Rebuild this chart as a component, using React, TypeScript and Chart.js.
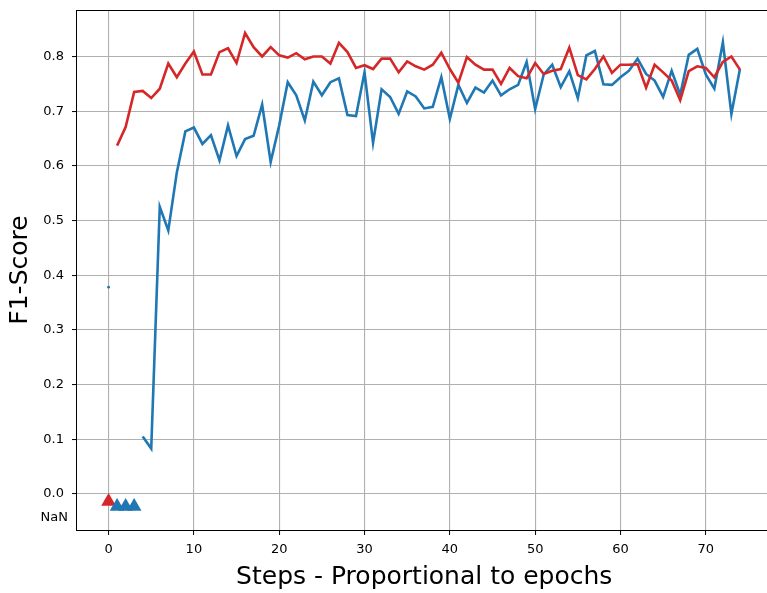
import React, { useEffect, useRef } from 'react';
import { Chart, registerables } from 'chart.js';

Chart.register(...registerables);

const STEPS = [
  0, 1, 2, 3, 4, 5, 6, 7, 8, 9, 10, 11, 12, 13, 14, 15, 16, 17, 18, 19,
  20, 21, 22, 23, 24, 25, 26, 27, 28, 29, 30, 31, 32, 33, 34, 35, 36, 37, 38, 39,
  40, 41, 42, 43, 44, 45, 46, 47, 48, 49, 50, 51, 52, 53, 54, 55, 56, 57, 58, 59,
  60, 61, 62, 63, 64, 65, 66, 67, 68, 69, 70, 71, 72, 73, 74,
];

const BLUE_F1 = [
  0.378, null, null, null, 0.105, 0.083, 0.525, 0.482, 0.588, 0.663,
  0.670, 0.640, 0.656, 0.610, 0.674, 0.618, 0.649, 0.655, 0.712, 0.607,
  0.674, 0.753, 0.729, 0.683, 0.754, 0.729, 0.753, 0.760, 0.693, 0.691,
  0.771, 0.642, 0.740, 0.726, 0.695, 0.736, 0.727, 0.705, 0.708, 0.762,
  0.686, 0.748, 0.715, 0.743, 0.734, 0.756, 0.729, 0.740, 0.748, 0.790,
  0.704, 0.767, 0.785, 0.744, 0.773, 0.724, 0.802, 0.810, 0.749, 0.748,
  0.762, 0.774, 0.796, 0.768, 0.756, 0.726, 0.774, 0.730, 0.803, 0.814,
  0.767, 0.741, 0.826, 0.695, 0.777,
];

const RED_F1 = [
  null, 0.637, 0.671, 0.735, 0.737, 0.724, 0.741, 0.787, 0.762, 0.787,
  0.809, 0.767, 0.767, 0.808, 0.815, 0.788, 0.843, 0.817, 0.800, 0.817,
  0.802, 0.798, 0.806, 0.795, 0.800, 0.800, 0.787, 0.825, 0.808, 0.779,
  0.784, 0.777, 0.796, 0.796, 0.771, 0.791, 0.782, 0.776, 0.785, 0.807,
  0.777, 0.752, 0.799, 0.785, 0.776, 0.776, 0.750, 0.779, 0.764, 0.760,
  0.788, 0.768, 0.774, 0.777, 0.816, 0.766, 0.758, 0.777, 0.800, 0.770,
  0.785, 0.785, 0.786, 0.743, 0.785, 0.771, 0.756, 0.720, 0.773, 0.782,
  0.779, 0.762, 0.790, 0.800, 0.776,
];

const BLUE_NAN_STEPS = [1, 2, 3];
const RED_NAN_STEPS = [0];
const BLUE_NAN_Y = -0.023;
const RED_NAN_Y = -0.014;

const X_TICKS = [0, 10, 20, 30, 40, 50, 60, 70];
const Y_TICKS = [0.0, 0.1, 0.2, 0.3, 0.4, 0.5, 0.6, 0.7, 0.8];
const NAN_LABEL = 'NaN';
const NAN_LABEL_VALUE = -0.043;

const X_MIN = -3.7;
const X_MAX = 77.7;
const Y_MIN = -0.066;
const Y_MAX = 0.885;

const X_TITLE = 'Steps - Proportional to epochs';
const Y_TITLE = 'F1-Score';

const BLUE = '#1f77b4';
const RED = '#d62728';
const FONT = 'DejaVu Sans';

const framePlugin = {
  id: 'frame',
  afterDraw(chart: any) {
    const { ctx, chartArea: a, scales } = chart;
    ctx.save();
    ctx.strokeStyle = '#000';
    ctx.lineWidth = 1;
    ctx.strokeRect(a.left - 0.5, a.top + 0.5, a.right - a.left, a.bottom - a.top);
    ctx.fillStyle = '#000';
    ctx.font = `13px "${FONT}"`;
    ctx.textAlign = 'right';
    ctx.textBaseline = 'middle';
    ctx.fillText(NAN_LABEL, a.left - 9, scales.y.getPixelForValue(NAN_LABEL_VALUE));
    ctx.restore();
  },
};

export default function App() {
  const ref = useRef<HTMLCanvasElement | null>(null);

  useEffect(() => {
    if (!ref.current) return;
    Chart.defaults.font.family = FONT;
    const toPoints = (vals: (number | null)[]) =>
      STEPS.map((s, i) => ({ x: s, y: vals[i] }));
    const isolated = (vals: (number | null)[]) => (c: any) => {
      const i = c.dataIndex;
      if (vals[i] == null) return 0;
      const prev = i > 0 ? vals[i - 1] : null;
      const next = i < vals.length - 1 ? vals[i + 1] : null;
      return prev == null && next == null ? 1.4 : 0;
    };

    const chart = new Chart(ref.current, {
      type: 'line',
      data: {
        datasets: [
          {
            label: 'blue-nan',
            data: BLUE_NAN_STEPS.map((s) => ({ x: s, y: BLUE_NAN_Y })),
            showLine: false,
            pointStyle: 'triangle',
            pointRadius: 8.5,
            pointBackgroundColor: BLUE,
            pointBorderWidth: 0,
            borderColor: BLUE,
            order: 0,
          },
          {
            label: 'red-nan',
            data: RED_NAN_STEPS.map((s) => ({ x: s, y: RED_NAN_Y })),
            showLine: false,
            pointStyle: 'triangle',
            pointRadius: 8.5,
            pointBackgroundColor: RED,
            pointBorderWidth: 0,
            borderColor: RED,
            order: 1,
          },
          {
            label: 'red',
            data: toPoints(RED_F1),
            borderColor: RED,
            backgroundColor: RED,
            borderWidth: 2.6,
            tension: 0,
            spanGaps: false,
            pointRadius: isolated(RED_F1),
            pointBorderWidth: 0,
            pointBackgroundColor: RED,
            order: 2,
          },
          {
            label: 'blue',
            data: toPoints(BLUE_F1),
            borderColor: BLUE,
            backgroundColor: BLUE,
            borderWidth: 2.6,
            tension: 0,
            spanGaps: false,
            pointRadius: isolated(BLUE_F1),
            pointBorderWidth: 0,
            pointBackgroundColor: BLUE,
            order: 3,
          },
        ],
      },
      options: {
        animation: false,
        responsive: false,
        events: [],
        layout: { padding: { top: 10, right: 5, left: 0, bottom: 0 } },
        plugins: {
          legend: { display: false },
          tooltip: { enabled: false },
        },
        scales: {
          x: {
            type: 'linear',
            min: X_MIN,
            max: X_MAX,
            afterBuildTicks: (s: any) => {
              s.ticks = X_TICKS.map((v) => ({ value: v }));
            },
            afterFit: (s: any) => {
              s.height = 63;
              s.paddingLeft = 0;
              s.paddingRight = 0;
            },
            ticks: {
              color: '#000',
              font: { size: 13, family: FONT },
              padding: 7,
              maxRotation: 0,
              autoSkip: false,
              callback: (v: any) => String(v),
            },
            grid: {
              color: '#b0b0b0',
              lineWidth: 1.1,
              tickColor: '#000',
              tickLength: 5,
              tickWidth: 1,
            },
            border: { display: false },
            title: {
              display: true,
              text: X_TITLE,
              color: '#000',
              font: { size: 25, family: FONT },
              padding: { top: 0, bottom: 1 },
            },
          },
          y: {
            type: 'linear',
            min: Y_MIN,
            max: Y_MAX,
            afterBuildTicks: (s: any) => {
              s.ticks = Y_TICKS.map((v) => ({ value: v }));
            },
            afterFit: (s: any) => {
              s.width = 77;
              s.paddingTop = 0;
              s.paddingBottom = 0;
            },
            ticks: {
              color: '#000',
              font: { size: 13, family: FONT },
              padding: 8,
              autoSkip: false,
              callback: (v: any) => Number(v).toFixed(1),
            },
            grid: {
              color: '#b0b0b0',
              lineWidth: 1.1,
              tickColor: '#000',
              tickLength: 5,
              tickWidth: 1,
            },
            border: { display: false },
            title: {
              display: true,
              text: Y_TITLE,
              color: '#000',
              font: { size: 25, family: FONT },
              padding: { top: 5, bottom: 0 },
            },
          },
        },
      },
      plugins: [framePlugin],
    } as any);

    return () => chart.destroy();
  }, []);

  return (
    <div
      style={{
        position: 'absolute',
        left: 0,
        top: 0,
        width: 767,
        height: 593,
        overflow: 'hidden',
        background: '#fff',
      }}
    >
      <canvas ref={ref} width={780} height={593} style={{ width: 780, height: 593, display: 'block' }} />
    </div>
  );
}
